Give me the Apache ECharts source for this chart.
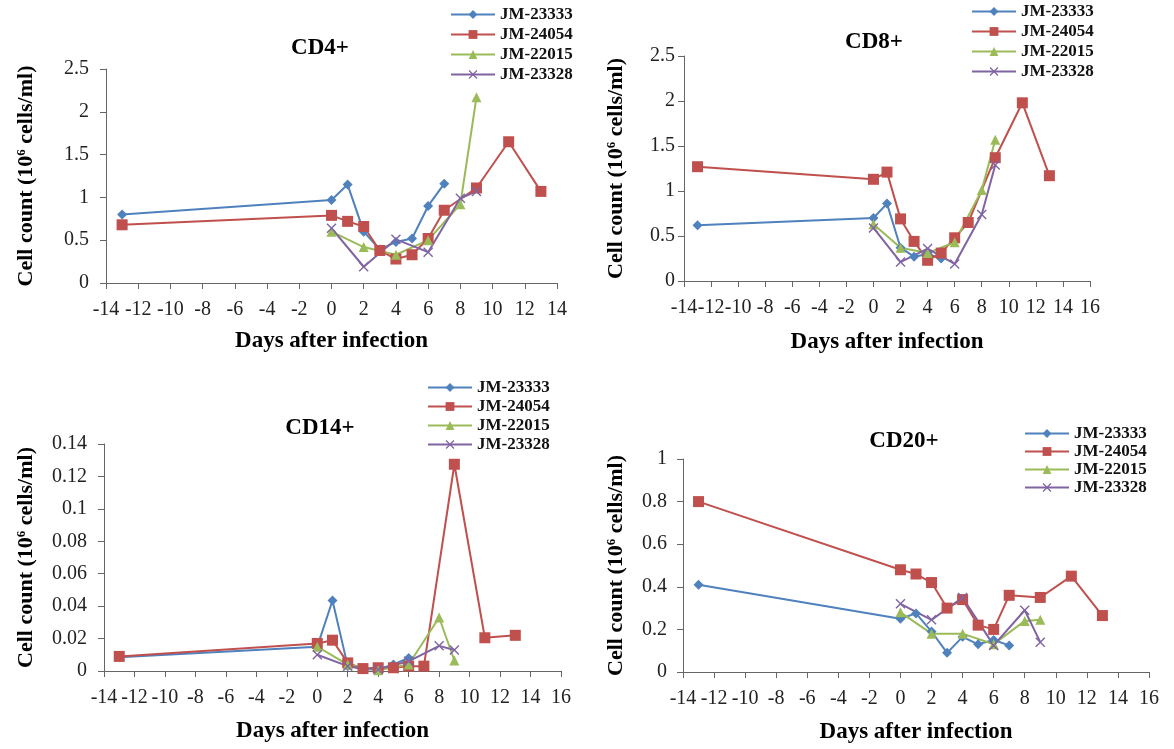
<!DOCTYPE html>
<html>
<head>
<meta charset="utf-8">
<script src="https://cdn.jsdelivr.net/npm/echarts@6/dist/echarts.min.js"></script>
<style>
  html, body { margin: 0; padding: 0; background: #fff; }
  #chart { width: 1174px; height: 749px; }
</style>
</head>
<body>
<div id="chart"></div>
<script>
// sampling days (days after infection), nulls mean no sample that day
var days = [-13, 0, 1, 2, 3, 4, 5, 6, 7, 8, 9, 11, 13];
var animals = ['JM-23333', 'JM-24054', 'JM-22015', 'JM-23328'];
var panels = ['CD4+', 'CD8+', 'CD14+', 'CD20+'];

var cd4_23333 = [0.80, 0.97, 1.15, 0.60, 0.39, 0.48, 0.52, 0.90, 1.16, null, null, null, null];
var cd4_24054 = [0.68, 0.79, 0.72, 0.66, 0.38, 0.28, 0.33, 0.52, 0.85, null, 1.11, 1.65, 1.07];
var cd4_22015 = [null, 0.60, null, 0.42, null, 0.33, null, 0.50, null, 0.92, 2.17, null, null];
var cd4_23328 = [null, 0.64, null, 0.19, null, 0.51, null, 0.36, null, 0.99, 1.07, null, null];

var cd8_23333 = [0.62, 0.70, 0.86, 0.37, 0.27, 0.30, 0.25, null, null, null, null, null, null];
var cd8_24054 = [1.27, 1.13, 1.21, 0.69, 0.44, 0.23, 0.31, 0.48, 0.65, null, 1.37, 1.98, 1.17];
var cd8_22015 = [null, 0.63, null, 0.37, null, 0.31, null, 0.43, null, 1.01, 1.57, null, null];
var cd8_23328 = [null, 0.59, null, 0.21, null, 0.36, null, 0.19, null, 0.74, 1.29, null, null];

var cd14_23333 = [0.0085, 0.015, 0.0435, 0.003, 0.001, 0.001, 0.004, 0.008, null, null, null, null, null];
var cd14_24054 = [0.009, 0.017, 0.019, 0.005, 0.0015, 0.002, 0.002, 0.003, 0.003, null, 0.1275, 0.0205, 0.022];
var cd14_22015 = [null, 0.015, null, 0.004, null, 0.0005, null, 0.004, null, 0.033, 0.0065, null, null];
var cd14_23328 = [null, 0.010, null, 0.003, null, 0.001, null, 0.006, null, 0.0155, 0.013, null, null];

var cd20_23333 = [0.41, 0.25, 0.275, 0.19, 0.09, 0.165, 0.13, 0.15, 0.125, null, null, null, null];
var cd20_24054 = [0.80, 0.48, 0.46, 0.42, 0.30, 0.34, 0.22, 0.20, 0.36, null, 0.35, 0.45, 0.265];
var cd20_22015 = [null, 0.28, null, 0.18, null, 0.18, null, 0.13, null, 0.24, 0.245, null, null];
var cd20_23328 = [null, 0.32, null, 0.245, null, 0.35, null, 0.125, null, 0.29, 0.14, null, null];

var xMin = [-14, -14, -14, -14];
var xMax = [14, 16, 16, 16];
var yMax = [2.5, 2.5, 0.14, 1];
var yStep = [0.5, 0.5, 0.02, 0.2];

var panelData = [
  [cd4_23333, cd4_24054, cd4_22015, cd4_23328],
  [cd8_23333, cd8_24054, cd8_22015, cd8_23328],
  [cd14_23333, cd14_24054, cd14_22015, cd14_23328],
  [cd20_23333, cd20_24054, cd20_22015, cd20_23328]
];

var serif = "'Liberation Serif', 'Times New Roman', serif";
var colors = ['#4f81bd', '#c0504d', '#9bbb59', '#8064a2'];
var crossPath = 'path://M0,1 L1,0 L5,4 L9,0 L10,1 L6,5 L10,9 L9,10 L5,6 L1,10 L0,9 L4,5 Z';
var symbols = ['diamond', 'rect', 'triangle', crossPath];
var symbolSizes = [10, 11, 10, 10];

// layout of each panel (pixels)
var grids = [
  { left: 106, top: 69, width: 451, height: 214 },
  { left: 684, top: 56, width: 406, height: 225 },
  { left: 104, top: 444, width: 457, height: 227 },
  { left: 683, top: 459, width: 466, height: 213 }
];
var titlePos = [[315, 32], [869, 26], [315, 412], [899, 425]];
var legendPos = [[450, 6], [971, 3], [427, 379], [1024, 425]];
var legendGap = [3, 3, 2, 1];
var yNameGap = [69, 57, 67, 56];
var xNameGap = [47, 50, 49, 49];
var yLabelMargin = [17, 9, 17, 16];

function toPairs(vals) {
  var out = [];
  for (var i = 0; i < days.length; i++) {
    if (vals[i] != null) out.push([days[i], vals[i]]);
  }
  return out;
}

var option = {
  animation: false,
  backgroundColor: '#fff',
  title: [],
  legend: [],
  grid: [],
  xAxis: [],
  yAxis: [],
  series: []
};

panels.forEach(function (name, p) {
  option.grid.push(grids[p]);
  option.title.push({
    text: name,
    left: titlePos[p][0],
    top: titlePos[p][1],
    textAlign: 'center',
    textStyle: { fontFamily: serif, fontWeight: 'bold', fontSize: 23, color: '#000' }
  });
  option.legend.push({
    data: animals,
    orient: 'vertical',
    left: legendPos[p][0],
    top: legendPos[p][1],
    itemWidth: 44,
    itemHeight: 11,
    itemGap: legendGap[p],
    padding: 0,
    textStyle: { fontFamily: serif, fontWeight: 'bold', fontSize: 17, color: '#111' }
  });
  option.xAxis.push({
    type: 'value',
    gridIndex: p,
    min: xMin[p],
    max: xMax[p],
    interval: 2,
    name: 'Days after infection',
    nameLocation: 'middle',
    nameGap: xNameGap[p],
    nameTextStyle: { fontFamily: serif, fontWeight: 'bold', fontSize: 23, color: '#000' },
    splitLine: { show: false },
    axisLine: { onZero: false, lineStyle: { color: '#666', width: 1 } },
    axisTick: { length: 6, lineStyle: { color: '#666' } },
    axisLabel: { fontFamily: serif, fontSize: 20, color: '#222', margin: 17 }
  });
  option.yAxis.push({
    type: 'value',
    gridIndex: p,
    min: 0,
    max: yMax[p],
    interval: yStep[p],
    name: 'Cell count (10{sup|6} cells/ml)',
    nameLocation: 'middle',
    nameRotate: 90,
    nameGap: yNameGap[p],
    nameTextStyle: {
      fontFamily: serif, fontWeight: 'bold', fontSize: 22, color: '#000',
      rich: { sup: { fontFamily: serif, fontWeight: 'bold', fontSize: 13, color: '#000', verticalAlign: 'top', padding: [0, 0, 9, 0] } }
    },
    splitLine: { show: false },
    axisLine: { show: true, onZero: false, lineStyle: { color: '#666', width: 1 } },
    axisTick: { show: true, length: 6, lineStyle: { color: '#666' } },
    axisLabel: { fontFamily: serif, fontSize: 20, color: '#222', margin: yLabelMargin[p] }
  });
  panelData[p].forEach(function (vals, s) {
    option.series.push({
      name: animals[s],
      type: 'line',
      xAxisIndex: p,
      yAxisIndex: p,
      data: toPairs(vals),
      symbol: symbols[s],
      symbolSize: symbolSizes[s],
      showAllSymbol: true,
      color: colors[s],
      lineStyle: { width: 2, color: colors[s] },
      itemStyle: { color: colors[s] }
    });
  });
});

var myChart = echarts.init(document.getElementById('chart'));
myChart.setOption(option);
</script>
</body>
</html>
